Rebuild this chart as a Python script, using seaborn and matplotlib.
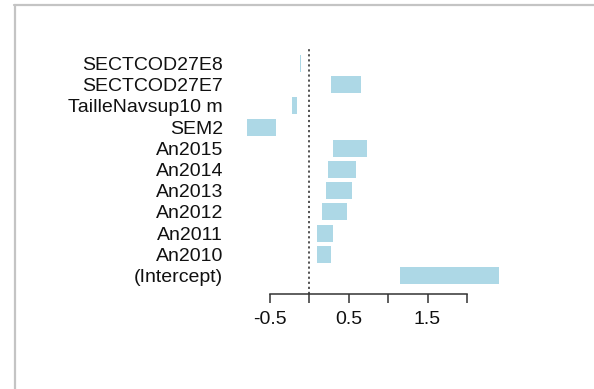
import matplotlib
matplotlib.use("Agg")
import matplotlib.pyplot as plt
from matplotlib.lines import Line2D
import seaborn as sns
import pandas as pd

# Coefficient ranges (lower / upper)
terms = ["SECTCOD27E8", "SECTCOD27E7", "TailleNavsup10 m", "SEM2", "An2015",
         "An2014", "An2013", "An2012", "An2011", "An2010", "(Intercept)"]
lower = [-0.115, 0.28, -0.21, -0.79, 0.31, 0.24, 0.22, 0.17, 0.10, 0.10, 1.15]
upper = [-0.100, 0.66, -0.15, -0.42, 0.73, 0.59, 0.54, 0.48, 0.31, 0.28, 2.41]

xticks = [-0.5, 0, 0.5, 1, 1.5, 2]
xlabels = ["-0.5", "", "0.5", "", "1.5", ""]

df = pd.DataFrame({"term": terms, "lower": lower, "upper": upper})
df["span"] = df["upper"] - df["lower"]

sns.set_style("white")
plt.rcParams["font.family"] = ["Liberation Sans", "DejaVu Sans"]

W, H = 594, 389
fig = plt.figure(figsize=(W / 100, H / 100), dpi=100)
fig.patch.set_facecolor("white")

# axes placed in pixel terms
left_px, right_px, top_px, bot_px = 230, 530, 47, 294
ax = fig.add_axes([left_px / W, 1 - bot_px / H, (right_px - left_px) / W, (bot_px - top_px) / H])

sns.barplot(data=df, x="span", y="term", left=df["lower"], color="#ADD8E6",
            saturation=1, errorbar=None, width=0.8, linewidth=0, ax=ax)

ax.axvline(0, color="#444444", lw=1.3, ls=(0, (1.2, 1.6)))

ax.set_xlim((left_px - 309) / 79, (right_px - 309) / 79)
ax.set_ylim(10.873, -0.778)

for s in ["top", "right", "left"]:
    ax.spines[s].set_visible(False)
ax.spines["bottom"].set_bounds(-0.5, 2)
ax.spines["bottom"].set_color("#333333")
ax.spines["bottom"].set_linewidth(1.1)

ax.set_xticks(xticks)
ax.set_xticklabels(xlabels)
ax.tick_params(axis="x", bottom=True, length=6.5, width=1.1, color="#333333",
               pad=6, labelsize=14, labelcolor="#111111")
ax.tick_params(axis="y", left=False, pad=1.5, labelsize=14, labelcolor="#111111")
ax.set_xlabel("")
ax.set_ylabel("")

# grey frame of the original screenshot
fig.add_artist(Line2D([14 / W, 1], [1 - 5 / H, 1 - 5 / H], transform=fig.transFigure,
                      color="#c4c4c4", lw=1.6))
fig.add_artist(Line2D([15 / W, 15 / W], [0, 1 - 5 / H], transform=fig.transFigure,
                      color="#c4c4c4", lw=1.6))

fig.savefig("out.png", dpi=100)
